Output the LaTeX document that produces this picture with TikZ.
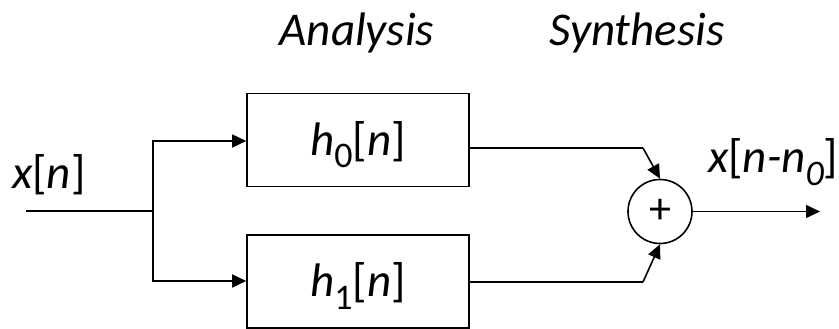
\documentclass[tikz,border=0pt]{standalone}
\usepackage{fontspec}
\setmainfont{Carlito}
\usetikzlibrary{arrows.meta}
\newcommand{\lowsub}[1]{\raisebox{-13pt}{\fontsize{36}{40}\selectfont #1}}
\newcommand{\ob}{{\upshape[}}
\newcommand{\cb}{{\upshape]}}
\begin{document}
\begin{tikzpicture}[x=1pt,y=-1pt,
  wire/.style={line width=1.6pt},
  arr/.style={wire,-{Triangle[length=14pt,width=13pt]}},
  filterbox/.style={draw,line width=1.6pt,minimum width=222pt,minimum height=93pt,inner sep=0pt},
  sumnode/.style={draw,circle,line width=1.6pt,minimum size=64pt,inner sep=0pt},
  lbl/.style={font=\fontsize{47}{52}\selectfont\itshape,inner sep=0pt}
]
\useasboundingbox (0,0) rectangle (839,329);

% section headings
\node[lbl,anchor=base] (ana) at (357,46) {Analysis};
\node[lbl,anchor=base] (syn) at (637,46) {Synthesis};

% filter blocks
\node[filterbox] (h0) at (358,140) {};
\node[filterbox] (h1) at (358,281.5) {};
\node[lbl,anchor=base] (t0) at (h0.center) [yshift=-15pt] {h\lowsub{\upshape 0}\ob n\cb};
\node[lbl,anchor=base] (t1) at (h1.center) [yshift=-15pt] {h\lowsub{\upshape 1}\ob n\cb};

% adder
\node[sumnode] (sum) at (660,211.5) {};
\node[font=\fontsize{44}{48}\selectfont,inner sep=0pt] (plus) at (sum.center) {+};

% input and branch point
\coordinate (xin) at (26,211);
\coordinate (br) at (153,211);
\node[lbl,anchor=base west] (xlbl) at (12,188) {x\ob n\cb};
\draw[wire] (xin) -- (br);
\draw[arr] (br) |- (h0.west |- 0,141);
\draw[arr] (br) |- (h1.west |- 0,281);

% outputs into the adder
\coordinate (b0) at (643,148);
\coordinate (b1) at (643,282);
\draw[wire] (h0.east |- b0) -- (b0);
\draw[arr] (b0) -- (sum.north);
\draw[wire] (h1.east |- b1) -- (b1);
\draw[arr] (b1) -- (sum.south);

% output
\coordinate (xout) at (820,211.5);
\draw[arr] (sum.east) -- (xout);
\node[lbl,anchor=base west] (ylbl) at (708,172) {x\ob n-n\lowsub{0}\cb};
\end{tikzpicture}
\end{document}
